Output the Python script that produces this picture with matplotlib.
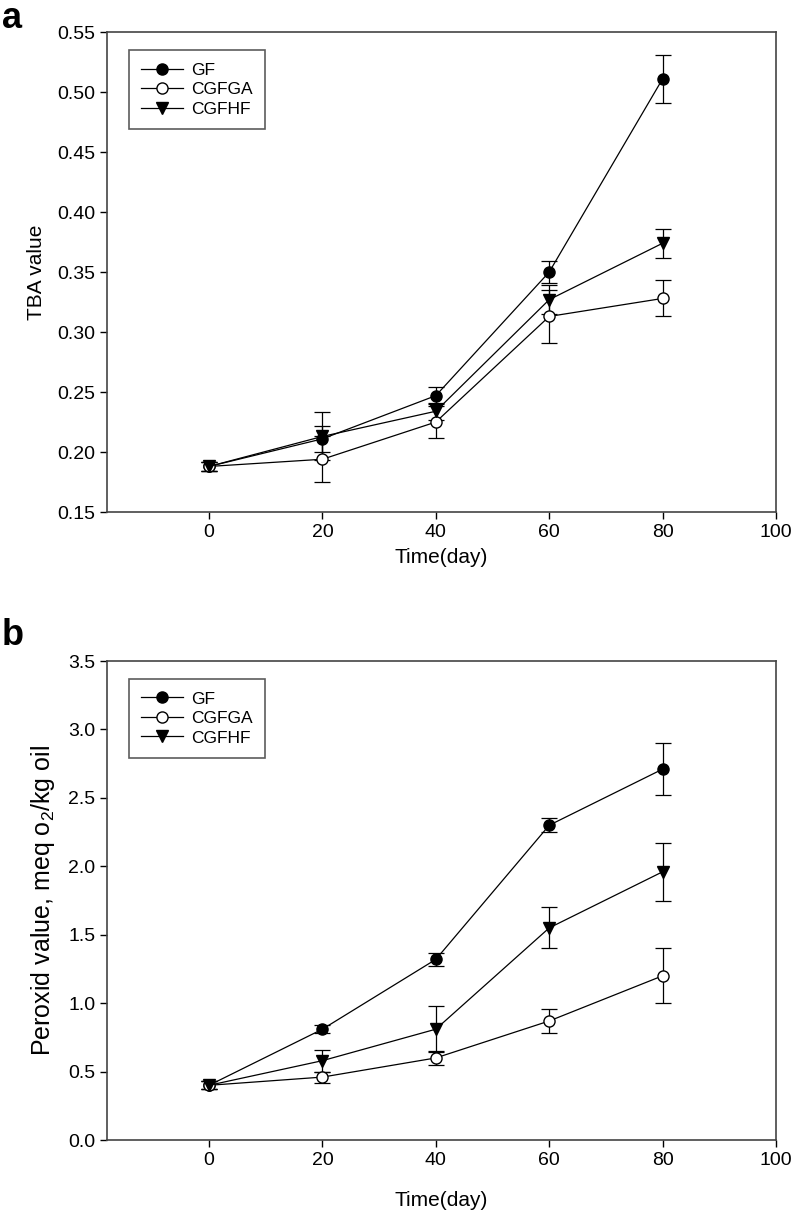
import matplotlib.pyplot as plt
from matplotlib.lines import Line2D

plt.rcParams['font.family'] = ['Liberation Sans', 'DejaVu Sans']
plt.rcParams['mathtext.default'] = 'regular'

# time points (days)
days = [0, 20, 40, 60, 80]

# panel a: TBA value
tba_gf = [0.188, 0.211, 0.247, 0.350, 0.511]
tba_gf_err = [0.004, 0.011, 0.007, 0.009, 0.020]
tba_cgfga = [0.188, 0.194, 0.225, 0.313, 0.328]
tba_cgfga_err = [0.004, 0.019, 0.013, 0.022, 0.015]
tba_cgfhf = [0.188, 0.213, 0.234, 0.327, 0.374]
tba_cgfhf_err = [0.004, 0.020, 0.007, 0.012, 0.012]

# panel b: peroxide value
pv_gf = [0.40, 0.81, 1.32, 2.30, 2.71]
pv_gf_err = [0.03, 0.03, 0.045, 0.05, 0.19]
pv_cgfga = [0.40, 0.46, 0.60, 0.87, 1.20]
pv_cgfga_err = [0.03, 0.04, 0.05, 0.09, 0.20]
pv_cgfhf = [0.40, 0.58, 0.81, 1.55, 1.96]
pv_cgfhf_err = [0.03, 0.08, 0.17, 0.15, 0.21]

labels = ['GF', 'CGFGA', 'CGFHF']
styles = [dict(marker='o', mfc='black'),
          dict(marker='o', mfc='white'),
          dict(marker='v', mfc='black')]

fig = plt.figure(figsize=(7.92, 12.18), dpi=100)
ax_a = fig.add_axes([0.1351, 0.5796, 0.8447, 0.3941])
ax_b = fig.add_axes([0.1351, 0.0640, 0.8447, 0.3933])


def draw(ax, series, errs):
    handles = []
    for vals, err, st in zip(series, errs, styles):
        ax.errorbar(days, vals, yerr=err, color='black', lw=0.9, mec='black',
                    ms=8, capsize=6, elinewidth=0.9, capthick=0.9, **st)
        handles.append(Line2D([], [], color='black', lw=0.9, mec='black', ms=8, **st))
    ax.set_xlim(-18, 100)
    ax.set_xticks([0, 20, 40, 60, 80, 100])
    ax.tick_params(direction='out', length=5, width=1, labelsize=14, top=False, right=False)
    for s in ax.spines.values():
        s.set_linewidth(1.2)
        s.set_color('#444444')
    leg = ax.legend(handles, labels, loc='upper left', fontsize=12.5, frameon=True,
                    fancybox=False, edgecolor='#333333', handlelength=2.4,
                    borderpad=0.7, labelspacing=0.25, handletextpad=0.5,
                    bbox_to_anchor=(0.02, 0.98))
    leg.get_frame().set_linewidth(1.2)


draw(ax_a, [tba_gf, tba_cgfga, tba_cgfhf], [tba_gf_err, tba_cgfga_err, tba_cgfhf_err])
ax_a.set_ylim(0.15, 0.55)
ax_a.set_yticks([0.15, 0.20, 0.25, 0.30, 0.35, 0.40, 0.45, 0.50, 0.55])
ax_a.set_yticklabels(['%.2f' % v for v in ax_a.get_yticks()])
ax_a.set_ylabel('TBA value', fontsize=15, labelpad=8)
ax_a.set_xlabel('Time(day)', fontsize=15, labelpad=5)

draw(ax_b, [pv_gf, pv_cgfga, pv_cgfhf], [pv_gf_err, pv_cgfga_err, pv_cgfhf_err])
ax_b.set_ylim(0, 3.5)
ax_b.set_yticks([0.0, 0.5, 1.0, 1.5, 2.0, 2.5, 3.0, 3.5])
ax_b.set_yticklabels(['%.1f' % v for v in ax_b.get_yticks()])
ax_b.set_ylabel('Peroxid value, meq o$_2$/kg oil', fontsize=18, labelpad=8)
ax_b.set_xlabel('Time(day)', fontsize=15, labelpad=16)

fig.text(0.002, 0.999, 'a', fontsize=26, fontweight='bold', va='top', ha='left')
fig.text(0.002, 0.493, 'b', fontsize=26, fontweight='bold', va='top', ha='left')

fig.savefig('out.png', dpi=100)
